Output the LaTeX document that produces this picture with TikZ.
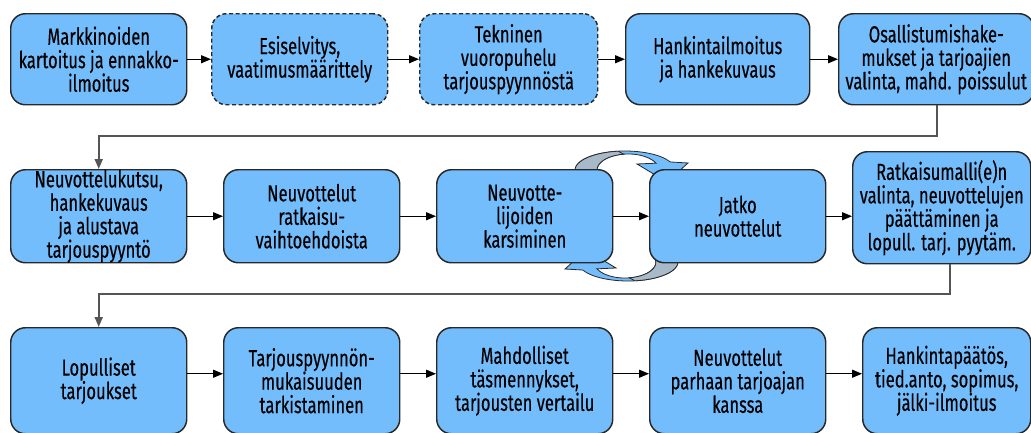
\documentclass[tikz,border=0pt]{standalone}
\usepackage{fontspec}
\setmainfont[FakeStretch=0.71,FakeBold=0.3]{Fira Sans}
\usetikzlibrary{arrows.meta}
\definecolor{boxblue}{RGB}{115,189,253}
\definecolor{boxline}{RGB}{40,40,40}
\definecolor{arcgray}{RGB}{168,186,201}
\definecolor{linkgray}{RGB}{85,85,85}
\begin{document}
\begin{tikzpicture}[x=0.75pt,y=-0.75pt,
  stepbox/.style={draw=boxline, fill=boxblue, line width=1.1pt, rounded corners=11pt,
    inner sep=0pt, align=center, font=\fontsize{17.5}{17.6}\selectfont, anchor=north west},
  dashbox/.style={stepbox, dash pattern=on 3pt off 2pt},
  link/.style={-{Triangle[length=7.5pt,width=6pt]}, line width=1pt, black},
  longlink/.style={-{Triangle[length=7.5pt,width=6pt]}, line width=1.4pt, linkgray},
  arcband/.style={fill=boxblue, draw=boxline, line width=0.6pt},
  arcshade/.style={fill=arcgray, draw=boxline, line width=0.6pt}
]
\useasboundingbox (0,0) rectangle (1031,432);
\clip (0,0) rectangle (1031,432);

% circular arrows (behind the boxes)
\path[arcband] (575.8,173.3) arc[start angle=170, end angle=335, x radius=50, y radius=19]
  -- (688,163) -- (667,182) -- (637,164) -- (656.1,163.2)
  arc[start angle=335, end angle=170, x radius=31, y radius=16] -- cycle;
\path[arcshade] (575.8,173.3) arc[start angle=170, end angle=262, x radius=50, y radius=19]
  -- (623.7,154.2) arc[start angle=262, end angle=170, x radius=31, y radius=16] -- cycle;
\path[arcband] (677.2,258.7) arc[start angle=-10, end angle=155, x radius=50, y radius=19]
  -- (565,269) -- (586,250) -- (616,268) -- (596.9,268.8)
  arc[start angle=155, end angle=-10, x radius=31, y radius=16] -- cycle;
\path[arcshade] (677.2,258.7) arc[start angle=-10, end angle=82, x radius=50, y radius=19]
  -- (629.3,277.8) arc[start angle=82, end angle=-10, x radius=31, y radius=16] -- cycle;

% row 1
\node[stepbox, minimum width=132pt, minimum height=68.25pt] (A1) at (10,13) {Markkinoiden\\kartoitus ja ennakko-\\ilmoitus};
\node[dashbox, minimum width=132pt, minimum height=68.25pt] (A2) at (211,13) {Esiselvitys,\\vaatimusmäärittely};
\node[dashbox, minimum width=133.5pt, minimum height=68.25pt] (A3) at (419,13) {Tekninen\\vuoropuhelu\\tarjouspyynnöstä};
\node[stepbox, minimum width=138pt, minimum height=68.25pt] (A4) at (625,13) {Hankintailmoitus\\ja hankekuvaus};
\node[stepbox, minimum width=146.25pt, minimum height=68.25pt] (A5) at (838,13) {Osallistumishake-\\mukset ja tarjoajien\\valinta, mahd. poissulut};

% row 2
\node[stepbox, minimum width=132pt, minimum height=69.75pt] (B1) at (10,169) {Neuvottelukutsu,\\hankekuvaus\\ja alustava\\tarjouspyyntö};
\node[stepbox, minimum width=132pt, minimum height=69.75pt] (B2) at (223,169) {Neuvottelut\\ratkaisu-\\vaihtoehdoista};
\node[stepbox, minimum width=132pt, minimum height=69.75pt] (B3) at (436,169) {Neuvotte-\\lijoiden\\karsiminen};
\node[stepbox, minimum width=132pt, minimum height=69.75pt] (B4) at (649,169) {Jatko\\neuvottelut};
\node[stepbox, minimum width=133.5pt, minimum height=84pt] (B5) at (852,151) {Ratkaisumalli(e)n\\valinta, neuvottelujen\\päättäminen ja\\lopull. tarj. pyytäm.};

% row 3
\node[stepbox, minimum width=132pt, minimum height=79.5pt] (C1) at (10,327) {Lopulliset\\tarjoukset};
\node[stepbox, minimum width=132pt, minimum height=79.5pt] (C2) at (223,327) {Tarjouspyynnön-\\mukaisuuden\\tarkistaminen};
\node[stepbox, minimum width=132pt, minimum height=79.5pt] (C3) at (436,327) {Mahdolliset\\täsmennykset,\\tarjousten vertailu};
\node[stepbox, minimum width=132pt, minimum height=79.5pt] (C4) at (649,327) {Neuvottelut\\parhaan tarjoajan\\kanssa};
\node[stepbox, minimum width=126pt, minimum height=79.5pt] (C5) at (862,327) {Hankintapäätös,\\tied.anto, sopimus,\\jälki-ilmoitus};

% connectors row 1
\draw[link] (A1.east) -- (A2.west);
\draw[link] (A2.east) -- (A3.west);
\draw[link] (A3.east) -- (A4.west);
\draw[link] (A4.east) -- (A5.west);
% row 2
\draw[link] (B1.east) -- (B2.west);
\draw[link] (B2.east) -- (B3.west);
\draw[link] (B3.east) -- (B4.west);
\draw[link] (B4.east) -- (B4.east -| B5.west);
% row 3
\draw[link] ([yshift=5.25pt]C1.east) -- ([yshift=5.25pt]C2.west);
\draw[link] ([yshift=5.25pt]C2.east) -- ([yshift=5.25pt]C3.west);
\draw[link] ([yshift=5.25pt]C3.east) -- ([yshift=5.25pt]C4.west);
\draw[link] ([yshift=5.25pt]C4.east) -- ([yshift=5.25pt]C5.west);

% row transitions
\coordinate (t1) at (937,136);
\coordinate (t2) at (950,294);
\draw[longlink] (A5.south -| t1) -- (t1) -| (B1.north);
\draw[longlink] (B5.south -| t2) -- (t2) -| (C1.north);
\end{tikzpicture}
\end{document}
